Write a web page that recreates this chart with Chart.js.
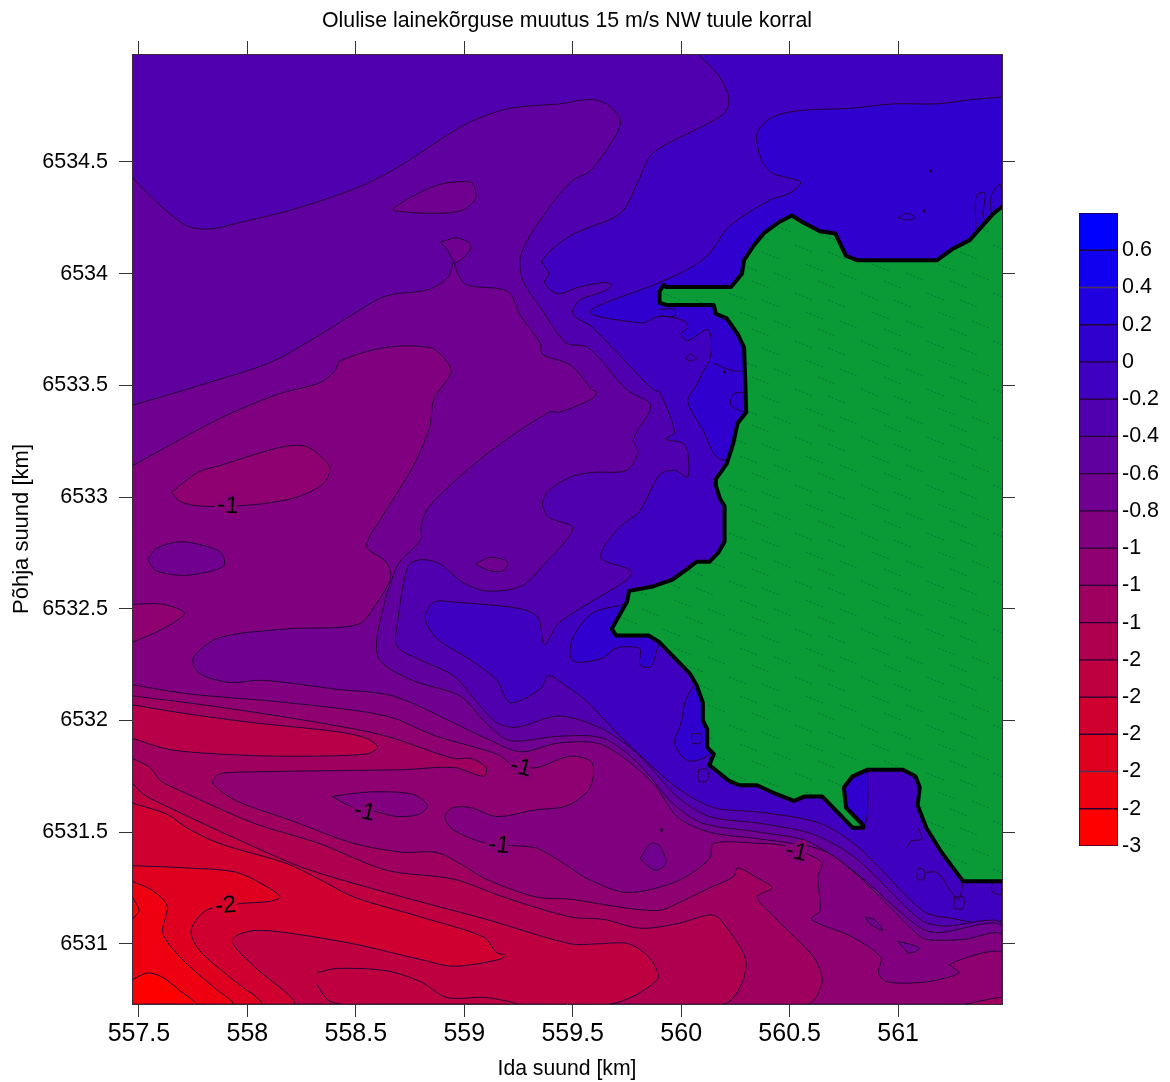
<!DOCTYPE html>
<html>
<head>
<meta charset="utf-8">
<title>Olulise lainekõrguse muutus</title>
<script src="https://cdn.jsdelivr.net/npm/chart.js@4"></script>
<style>
  body { margin: 0; background: #fff; }
  #map { position: absolute; left: 0; top: 0; }
  #bar { position: absolute; left: 1060px; top: 190px; }
</style>
</head>
<body>
<canvas id="map" width="1170" height="1082"></canvas>
<canvas id="bar" width="110" height="680"></canvas>
<script>
const xMin = 557.468, xMax = 561.479, yMin = 6530.731, yMax = 6534.983;
const xTicks = [557.5, 558, 558.5, 559, 559.5, 560, 560.5, 561];
const yTicks = [6531, 6531.5, 6532, 6532.5, 6533, 6533.5, 6534, 6534.5];

// colour bar
const barLevels = [0.8, 0.6, 0.4, 0.2, 0, -0.2, -0.4, -0.6, -0.8, -1, -1.2, -1.4, -1.6, -1.8, -2, -2.2, -2.4, -2.6];
const barTicks = [0.6, 0.4, 0.2, 0, -0.2, -0.4, -0.6, -0.8, -1, -1.2, -1.4, -1.6, -1.8, -2, -2.2, -2.4, -2.6];
const barLabels = ['0.6', '0.4', '0.2', '0', '-0.2', '-0.4', '-0.6', '-0.8', '-1', '-1', '-1', '-2', '-2', '-2', '-2', '-2', '-3'];

// contour labels
const labelText = ['-1', '-1', '-1', '-1', '-1', '-2'];
const labelValue = [-1, -1, -1, -1, -1, -2];
const labelX = [557.91, 559.26, 558.54, 559.16, 560.53, 557.90];
const labelY = [6532.96, 6531.79, 6531.59, 6531.44, 6531.41, 6531.17];
const labelAngle = [4, 14, 14, 5, 14, -5];

// contours, digitised [ida km, pohja km]
const plotBox = [[557.468, 6534.983], [561.479, 6534.983], [561.479, 6530.731], [557.468, 6530.731]];
const sw = [[561.48, 6530.73], [557.47, 6530.73]];

const iso02 = [[560.08,6534.98],[560.17,6534.89],[560.22,6534.78],[560.19,6534.71],[559.87,6534.54],[559.80,6534.41],[559.72,6534.27],[559.49,6534.17],[559.36,6534.06],[559.39,6534.00],[559.37,6533.96],[559.43,6533.91],[559.53,6533.94],[559.64,6533.96],[559.68,6533.95],[559.64,6533.92],[559.53,6533.88],[559.50,6533.82],[559.59,6533.76],[559.74,6533.61],[559.87,6533.48],[559.90,6533.47],[559.97,6533.29],[559.93,6533.26],[560.01,6533.24],[560.03,6533.20],[560.03,6533.09],[559.97,6533.12],[559.90,6533.10],[559.81,6532.94],[559.70,6532.85],[559.63,6532.73],[559.77,6532.67],[559.75,6532.63],[559.44,6532.44],[559.37,6532.34],[559.34,6532.46],[559.26,6532.50],[558.95,6532.53],[558.86,6532.53],[558.82,6532.46],[558.87,6532.37],[559.03,6532.27],[559.15,6532.18],[559.21,6532.08],[559.35,6532.14],[559.39,6532.20],[559.49,6532.14],[559.56,6532.09],[559.63,6532.02],[559.76,6531.89],[559.98,6531.70],[560.15,6531.61],[560.36,6531.59],[560.64,6531.54],[560.82,6531.43],[561.11,6531.15],[561.21,6531.12],[561.48,6531.12],[561.48,6534.98]];
const bayNorth = [[561.48,6534.79],[561.35,6534.78],[561.18,6534.76],[560.98,6534.76],[560.78,6534.74],[560.55,6534.73],[560.42,6534.70],[560.35,6534.63],[560.37,6534.51],[560.42,6534.45],[560.55,6534.41],[560.50,6534.36],[560.41,6534.33],[560.22,6534.21],[560.13,6534.09],[560.05,6534.03],[559.90,6533.96],[559.58,6533.83],[559.82,6533.78],[559.90,6533.81],[560.01,6533.79],[560.03,6533.76],[560.00,6533.73],[560.03,6533.70],[560.12,6533.75],[560.14,6533.70],[560.13,6533.61],[560.10,6533.56],[560.07,6533.50],[560.03,6533.43],[560.10,6533.30],[560.18,6533.17],[560.55,6533.17],[561.48,6533.88]];
const fingerZero = [[559.74,6532.52],[559.59,6532.48],[559.50,6532.37],[559.49,6532.28],[559.53,6532.26],[559.64,6532.28],[559.69,6532.32],[559.75,6532.33],[559.81,6532.32],[559.81,6532.25],[559.86,6532.24],[559.89,6532.32],[559.93,6532.41]];
const coastPatch = [[560.06,6532.16],[560.02,6532.09],[560.00,6531.99],[559.97,6531.90],[560.03,6531.82],[560.12,6531.84],[560.18,6531.91]];
const bayPatch = [[560.86,6531.78],[560.85,6531.54],[560.78,6531.58],[560.72,6531.69],[560.78,6531.77]];

const iso04 = [[557.47,6534.43],[557.55,6534.35],[557.64,6534.27],[557.73,6534.21],[557.83,6534.20],[557.97,6534.23],[558.22,6534.29],[558.52,6534.39],[558.70,6534.48],[558.89,6534.60],[559.03,6534.68],[559.21,6534.74],[559.44,6534.76],[559.59,6534.78],[559.67,6534.75],[559.72,6534.68],[559.68,6534.59],[559.58,6534.46],[559.49,6534.41],[559.35,6534.24],[559.26,6534.08],[559.27,6533.97],[559.35,6533.85],[559.47,6533.69],[559.57,6533.67],[559.75,6533.48],[559.86,6533.41],[559.78,6533.26],[559.80,6533.20],[559.75,6533.12],[559.59,6533.11],[559.49,6533.09],[559.39,6533.03],[559.36,6532.97],[559.39,6532.91],[559.50,6532.86],[559.36,6532.69],[559.26,6532.60],[559.10,6532.58],[558.99,6532.62],[558.89,6532.70],[558.80,6532.72],[558.74,6532.69],[558.69,6532.42],[558.69,6532.33],[558.80,6532.27],[558.95,6532.20],[559.06,6532.08],[559.15,6531.99],[559.24,6531.97],[559.44,6532.02],[559.64,6531.96],[559.81,6531.84],[559.98,6531.66],[560.13,6531.57],[560.36,6531.54],[560.61,6531.49],[560.81,6531.38],[561.10,6531.11],[561.21,6531.08],[561.48,6531.09]];
const iso06 = [[557.47,6533.41],[557.78,6533.50],[558.10,6533.60],[558.29,6533.70],[558.49,6533.82],[558.64,6533.90],[558.84,6533.93],[558.93,6533.99],[558.95,6534.05],[558.97,6534.00],[559.01,6533.95],[559.20,6533.92],[559.26,6533.81],[559.35,6533.69],[559.36,6533.64],[559.49,6533.59],[559.59,6533.48],[559.61,6533.47],[559.59,6533.44],[559.44,6533.38],[559.39,6533.38],[559.10,6533.19],[558.84,6532.96],[558.80,6532.87],[558.80,6532.81],[558.69,6532.69],[558.60,6532.39],[558.61,6532.27],[558.76,6532.18],[558.98,6532.11],[559.10,6531.99],[559.21,6531.91],[559.44,6531.93],[559.64,6531.92],[559.80,6531.81],[559.96,6531.63],[560.10,6531.54],[560.36,6531.50],[560.58,6531.46],[560.79,6531.33],[561.09,6531.08],[561.18,6531.05],[561.48,6531.08]];
const iso08 = [[557.47,6533.14],[557.87,6533.35],[558.14,6533.46],[558.33,6533.51],[558.40,6533.56],[558.43,6533.61],[558.64,6533.67],[558.84,6533.67],[558.90,6533.63],[558.94,6533.56],[558.86,6533.44],[558.84,6533.31],[558.76,6533.13],[558.62,6532.91],[558.55,6532.78],[558.64,6532.71],[558.66,6532.64],[558.60,6532.53],[558.51,6532.43],[558.18,6532.41],[557.87,6532.37],[557.75,6532.28],[557.78,6532.21],[557.92,6532.17],[558.07,6532.18],[558.41,6532.14],[558.67,6532.11],[558.95,6531.99],[559.10,6531.92],[559.26,6531.86],[559.44,6531.90],[559.64,6531.89],[559.87,6531.72],[559.98,6531.57],[560.13,6531.50],[560.36,6531.47],[560.65,6531.42],[560.82,6531.30],[561.07,6531.06],[561.13,6531.02],[561.30,6531.02],[561.48,6531.04]];
const iso10 = [[557.47,6532.16],[557.72,6532.12],[558.18,6532.08],[558.64,6532.02],[558.87,6531.93],[559.15,6531.85],[559.21,6531.81],[559.28,6531.79],[559.34,6531.79],[559.49,6531.84],[559.59,6531.81],[559.58,6531.70],[559.50,6531.63],[559.44,6531.61],[559.33,6531.60],[559.15,6531.57],[559.03,6531.61],[558.95,6531.61],[558.91,6531.57],[558.95,6531.51],[559.10,6531.45],[559.22,6531.44],[559.33,6531.43],[559.41,6531.39],[559.49,6531.34],[559.57,6531.29],[559.75,6531.23],[559.98,6531.28],[560.13,6531.38],[560.15,6531.45],[560.36,6531.45],[560.47,6531.44],[560.61,6531.39],[560.65,6531.36],[560.63,6531.30],[560.64,6531.15],[560.60,6531.11],[560.79,6531.03],[560.92,6530.94],[560.91,6530.87],[560.95,6530.83],[561.13,6530.83],[561.28,6530.87],[561.24,6530.91],[561.48,6530.96]];
const iso12 = [[557.47,6532.11],[557.87,6532.06],[558.33,6531.99],[558.64,6531.93],[558.95,6531.83],[559.03,6531.83],[559.10,6531.79],[559.09,6531.75],[558.95,6531.79],[558.72,6531.78],[558.03,6531.77],[557.87,6531.76],[557.84,6531.72],[557.95,6531.64],[558.18,6531.56],[558.49,6531.45],[558.72,6531.41],[558.87,6531.41],[558.98,6531.36],[559.10,6531.29],[559.33,6531.21],[559.49,6531.20],[559.75,6531.16],[559.90,6531.15],[559.98,6531.18],[560.13,6531.25],[560.24,6531.30],[560.26,6531.34],[560.36,6531.29],[560.42,6531.25],[560.35,6531.21],[560.44,6531.11],[560.61,6530.94],[560.65,6530.83],[560.58,6530.73],[557.47,6530.73]];
const iso12b = [[561.31,6530.73],[561.48,6530.76],[561.48,6530.73]];
const iso14n = [[557.47,6532.07],[557.72,6532.03],[558.03,6531.99],[558.41,6531.95],[558.55,6531.92],[558.60,6531.88],[558.55,6531.85],[558.18,6531.84],[557.87,6531.85],[557.64,6531.87],[557.47,6531.92]];
const iso14 = [[557.47,6531.83],[557.55,6531.79],[557.60,6531.73],[557.68,6531.69],[558.03,6531.54],[558.33,6531.45],[558.64,6531.33],[558.95,6531.29],[559.18,6531.21],[559.49,6531.12],[559.64,6531.11],[559.81,6531.07],[559.98,6531.09],[560.13,6531.13],[560.18,6531.11],[560.30,6530.91],[560.19,6530.73],[557.47,6530.73]];
const iso16 = [[557.47,6531.72],[557.52,6531.67],[557.64,6531.61],[557.95,6531.47],[558.26,6531.34],[558.64,6531.23],[559.10,6531.11],[559.49,6531.00],[559.61,6531.00],[559.76,6531.00],[559.86,6530.93],[559.89,6530.84],[559.66,6530.73],[557.47,6530.73]];
const iso18 = [[557.47,6531.63],[557.63,6531.58],[557.72,6531.52],[557.87,6531.45],[558.18,6531.36],[558.33,6531.29],[558.49,6531.21],[558.80,6531.12],[559.09,6531.03],[559.15,6530.96],[559.19,6530.95],[559.16,6530.93],[558.95,6530.90],[558.80,6530.93],[558.49,6531.00],[558.18,6531.05],[558.03,6531.06],[557.94,6531.03],[557.94,6530.99],[558.03,6530.90],[558.21,6530.73],[557.47,6530.73]];
const tongue16 = [[558.32,6530.87],[558.41,6530.89],[558.64,6530.88],[558.80,6530.83],[558.92,6530.76],[559.10,6530.76],[559.24,6530.73],[558.44,6530.73],[558.37,6530.75],[558.32,6530.82]];
const iso20 = [[557.47,6531.35],[557.72,6531.34],[557.95,6531.32],[558.10,6531.25],[558.15,6531.21],[558.10,6531.19],[557.96,6531.18],[557.81,6531.15],[557.74,6531.06],[557.78,6530.97],[557.92,6530.85],[558.06,6530.73],[557.47,6530.73]];
const iso22 = [[557.47,6531.28],[557.56,6531.24],[557.63,6531.17],[557.61,6531.05],[557.69,6530.94],[557.84,6530.81],[557.93,6530.73],[557.47,6530.73]];
const iso24 = [[557.47,6530.84],[557.54,6530.87],[557.61,6530.85],[557.69,6530.79],[557.76,6530.73],[557.47,6530.73]];
const iso24b = [[557.47,6531.21],[557.50,6531.15],[557.47,6531.11]];

// closed islands of the field
const blobA = [[558.67,6534.29],[558.75,6534.34],[558.89,6534.40],[559.03,6534.41],[559.05,6534.38],[559.05,6534.33],[558.98,6534.28],[558.84,6534.27],[558.68,6534.28],[558.67,6534.29]];
const blobB = [[558.89,6534.14],[558.96,6534.16],[559.02,6534.14],[559.03,6534.11],[558.96,6534.05],[558.92,6534.11],[558.89,6534.14]];
const blobC = [[559.05,6532.70],[559.12,6532.73],[559.20,6532.71],[559.18,6532.67],[559.12,6532.67],[559.05,6532.70]];
const blobD = [[557.54,6532.72],[557.58,6532.77],[557.69,6532.80],[557.81,6532.78],[557.88,6532.75],[557.89,6532.69],[557.72,6532.65],[557.58,6532.67],[557.54,6532.72]];
const blobRed = [[557.65,6533.02],[557.77,6533.11],[557.87,6533.14],[558.14,6533.22],[558.26,6533.23],[558.33,6533.19],[558.38,6533.13],[558.35,6533.06],[558.23,6533.00],[558.07,6532.97],[557.93,6532.96],[557.78,6532.96],[557.69,6532.98],[557.65,6533.02]];
const blobEdge = [[557.47,6532.52],[557.61,6532.52],[557.71,6532.48],[557.61,6532.41],[557.47,6532.35]];
const blobE = [[558.39,6531.66],[558.56,6531.68],[558.76,6531.67],[558.83,6531.62],[558.79,6531.58],[558.69,6531.57],[558.60,6531.59],[558.49,6531.61],[558.39,6531.66]];
const blobF = [[559.81,6531.38],[559.86,6531.45],[559.90,6531.44],[559.93,6531.36],[559.88,6531.33],[559.81,6531.38]];
const blobG = [[560.85,6531.12],[560.89,6531.11],[560.93,6531.06],[560.87,6531.09],[560.85,6531.12]];
const blobH = [[561.00,6531.01],[561.05,6531.00],[561.10,6530.98],[561.05,6530.96],[561.00,6531.01]];

// small shoreline wiggles
const wiggles = [
  [[561.09,6531.52],[561.11,6531.47],[561.06,6531.46],[561.04,6531.43]],
  [[561.13,6531.32],[561.18,6531.32],[561.24,6531.24],[561.28,6531.20],[561.30,6531.28]],
  [[561.09,6531.34],[561.12,6531.33],[561.12,6531.29],[561.09,6531.29],[561.09,6531.34]],
  [[561.26,6531.21],[561.30,6531.21],[561.30,6531.16],[561.26,6531.16],[561.26,6531.21]],
  [[561.44,6531.29],[561.43,6531.24],[561.47,6531.22],[561.48,6531.26]],
  [[560.08,6531.78],[560.12,6531.78],[560.12,6531.73],[560.08,6531.73],[560.08,6531.78]],
  [[560.05,6531.94],[560.09,6531.94],[560.09,6531.90],[560.05,6531.90],[560.05,6531.94]],
  [[561.36,6534.18],[561.36,6534.35],[561.40,6534.36],[561.39,6534.26],[561.40,6534.24]],
  [[561.43,6534.25],[561.43,6534.35],[561.47,6534.40],[561.48,6534.30]],
  [[561.00,6534.25],[561.04,6534.27],[561.08,6534.25],[561.04,6534.24],[561.00,6534.25]],
  [[559.90,6533.84],[559.97,6533.84],[559.97,6533.81],[559.90,6533.81]],
  [[560.02,6533.62],[560.04,6533.64],[560.07,6533.62],[560.04,6533.61],[560.02,6533.62]],
  [[560.15,6533.60],[560.22,6533.57],[560.29,6533.56]],
  [[560.29,6533.47],[560.24,6533.46],[560.23,6533.41],[560.29,6533.38]]
];
const dots = [[561.15,6534.46],[561.12,6534.28],[559.91,6531.51],[560.20,6533.56]];

const land = [[561.48,6534.30],[561.44,6534.27],[561.33,6534.15],[561.25,6534.11],[561.18,6534.06],[560.81,6534.06],[560.76,6534.08],[560.71,6534.18],[560.64,6534.19],[560.56,6534.23],[560.51,6534.26],[560.45,6534.23],[560.38,6534.18],[560.33,6534.12],[560.29,6534.06],[560.28,6534.00],[560.23,6533.94],[559.93,6533.94],[559.92,6533.95],[559.90,6533.92],[559.90,6533.87],[559.93,6533.86],[560.15,6533.86],[560.16,6533.82],[560.21,6533.80],[560.26,6533.73],[560.29,6533.67],[560.30,6533.38],[560.26,6533.33],[560.24,6533.24],[560.21,6533.15],[560.16,6533.08],[560.16,6533.05],[560.18,6532.99],[560.20,6532.96],[560.20,6532.80],[560.17,6532.75],[560.13,6532.71],[560.07,6532.71],[560.03,6532.68],[559.96,6532.63],[559.87,6532.60],[559.76,6532.58],[559.75,6532.53],[559.72,6532.48],[559.68,6532.41],[559.70,6532.38],[559.85,6532.38],[559.90,6532.35],[560.04,6532.21],[560.07,6532.16],[560.10,6532.08],[560.10,6532.00],[560.12,6531.96],[560.12,6531.88],[560.15,6531.85],[560.13,6531.80],[560.22,6531.73],[560.27,6531.71],[560.35,6531.71],[560.44,6531.67],[560.52,6531.64],[560.57,6531.66],[560.65,6531.66],[560.79,6531.52],[560.84,6531.52],[560.84,6531.53],[560.76,6531.61],[560.75,6531.70],[560.79,6531.75],[560.86,6531.78],[561.02,6531.78],[561.08,6531.75],[561.10,6531.70],[561.09,6531.62],[561.13,6531.52],[561.20,6531.41],[561.30,6531.28],[561.48,6531.28]];

const fontFamily = '"Liberation Sans", Arial, sans-serif';
const lineColor = 'rgb(38, 0, 55)';

function bandColor(v) {
  const t = Math.min(1, Math.max(0, (0.7 - v) / 3.2));
  return `rgb(${Math.round(255 * t)}, 0, ${Math.round(255 * (1 - t))})`;
}

function toPoints(list) {
  return list.map(p => ({ x: p[0], y: p[1] }));
}

function landPattern() {
  const tile = document.createElement('canvas');
  tile.width = 66;
  tile.height = 48;
  const c = tile.getContext('2d');
  c.fillStyle = '#0a9a36';
  c.fillRect(0, 0, 66, 48);
  c.strokeStyle = 'rgba(0, 95, 60, 0.6)';
  c.lineWidth = 1;
  c.setLineDash([2, 2]);
  [[3, 5], [36, 12], [14, 24], [48, 33], [26, 41]].forEach(s => {
    c.beginPath();
    c.moveTo(s[0], s[1]);
    c.lineTo(s[0] + 17, s[1] + 7);
    c.stroke();
  });
  return c.createPattern(tile, 'repeat');
}

// painted in this order, later ones on top
const layers = [
  { pts: plotBox, v: -0.3, line: 0 },
  { pts: iso02, v: -0.1 },
  { pts: bayNorth, v: 0.1 },
  { pts: fingerZero, v: 0.1 },
  { pts: coastPatch, v: 0.1 },
  { pts: bayPatch, v: 0.1 },
  { pts: iso04.concat(sw), v: -0.5 },
  { pts: blobA, v: -0.7 },
  { pts: blobB, v: -0.7 },
  { pts: blobC, v: -0.7 },
  { pts: iso06.concat(sw), v: -0.7 },
  { pts: iso08.concat(sw), v: -0.9 },
  { pts: blobD, v: -0.7 },
  { pts: blobF, v: -0.7 },
  { pts: blobG, v: -0.7 },
  { pts: blobH, v: -0.7 },
  { pts: blobRed, v: -1.1 },
  { pts: blobEdge, v: -1.1 },
  { pts: iso10.concat(sw), v: -1.1 },
  { pts: blobE, v: -0.9 },
  { pts: iso12, v: -1.3 },
  { pts: iso12b, v: -1.3 },
  { pts: iso14n, v: -1.6 },
  { pts: iso14, v: -1.5 },
  { pts: iso16, v: -1.7 },
  { pts: iso18, v: -1.9 },
  { pts: tongue16, v: -1.7 },
  { pts: iso20, v: -2.1 },
  { pts: iso22, v: -2.3 },
  { pts: iso24, v: -2.6 },
  { pts: iso24b, v: -2.6 }
];

const datasets = [];
layers.forEach(l => {
  datasets.push({
    data: toPoints(l.pts),
    showLine: true,
    fill: 'shape',
    backgroundColor: bandColor(l.v),
    borderColor: lineColor,
    borderWidth: l.line === 0 ? 0 : 1,
    tension: 0.3,
    pointRadius: 0,
    clip: 0
  });
});
wiggles.forEach(w => {
  datasets.push({
    data: toPoints(w),
    showLine: true,
    fill: false,
    borderColor: lineColor,
    borderWidth: 1,
    tension: 0.3,
    pointRadius: 0,
    clip: 0
  });
});
datasets.push({
  data: toPoints(dots),
  showLine: false,
  pointRadius: 1.6,
  pointBorderWidth: 0,
  pointBackgroundColor: lineColor
});
datasets.push({
  data: toPoints(land),
  showLine: true,
  fill: 'shape',
  backgroundColor: landPattern(),
  borderColor: '#000',
  borderWidth: 4,
  borderJoinStyle: 'round',
  tension: 0,
  pointRadius: 0,
  clip: 0
});
// later datasets have to end up on top
datasets.forEach((d, i) => { d.order = datasets.length - i; });

const contourLabels = {
  id: 'contourLabels',
  afterDatasetsDraw(chart) {
    const ctx = chart.ctx;
    ctx.save();
    ctx.font = `24px ${fontFamily}`;
    ctx.textAlign = 'center';
    ctx.textBaseline = 'middle';
    ctx.lineJoin = 'round';
    labelText.forEach((t, i) => {
      ctx.save();
      ctx.translate(chart.scales.x.getPixelForValue(labelX[i]), chart.scales.y.getPixelForValue(labelY[i]));
      ctx.rotate(labelAngle[i] * Math.PI / 180);
      // the contour breaks around its label
      ctx.strokeStyle = bandColor(labelValue[i]);
      ctx.lineWidth = 7;
      ctx.strokeText(t, 0, 0);
      ctx.fillStyle = '#000';
      ctx.fillText(t, 0, 0);
      ctx.restore();
    });
    ctx.restore();
  }
};

function axisGrid() {
  return { drawOnChartArea: false, drawTicks: true, tickLength: 13, tickColor: '#333', tickWidth: 1 };
}
const axisBorder = { display: true, color: '#3a2a3a', width: 1, z: 1 };

new Chart(document.getElementById('map'), {
  type: 'scatter',
  data: { datasets: datasets },
  plugins: [contourLabels],
  options: {
    responsive: false,
    animation: false,
    events: [],
    layout: { autoPadding: false, padding: 0 },
    plugins: { legend: { display: false }, tooltip: { enabled: false } },
    scales: {
      x: {
        type: 'linear', position: 'bottom', min: xMin, max: xMax,
        grid: axisGrid(), border: axisBorder,
        afterBuildTicks: s => { s.ticks = xTicks.map(v => ({ value: v })); },
        afterFit: s => { s.height = 78; },
        ticks: {
          autoSkip: false, maxRotation: 0, color: '#000', padding: 2,
          font: { family: fontFamily, size: 25 },
          callback: v => String(v)
        },
        title: {
          display: true, text: 'Ida suund [km]', color: '#000',
          font: { family: fontFamily, size: 21.2 }, padding: { top: 0, bottom: 0 }
        }
      },
      y: {
        type: 'linear', position: 'left', min: yMin, max: yMax,
        grid: axisGrid(), border: axisBorder,
        afterBuildTicks: s => { s.ticks = yTicks.map(v => ({ value: v })); },
        afterFit: s => { s.width = 132; },
        ticks: {
          autoSkip: false, color: '#000', padding: 11,
          font: { family: fontFamily, size: 21.5 },
          callback: v => String(v)
        },
        title: {
          display: true, text: 'Põhja suund [km]', color: '#000',
          font: { family: fontFamily, size: 22 }, padding: { top: 9, bottom: 0 }
        }
      },
      x2: {
        type: 'linear', position: 'top', min: xMin, max: xMax,
        grid: axisGrid(), border: axisBorder,
        afterBuildTicks: s => { s.ticks = xTicks.map(v => ({ value: v })); },
        afterFit: s => { s.height = 54; },
        ticks: { display: false, autoSkip: false },
        title: {
          display: true, text: 'Olulise lainekõrguse muutus 15 m/s NW tuule korral', color: '#000',
          font: { family: fontFamily, size: 21.3 }, padding: { top: 8, bottom: 0 }
        }
      },
      y2: {
        type: 'linear', position: 'right', min: yMin, max: yMax,
        grid: axisGrid(), border: axisBorder,
        afterBuildTicks: s => { s.ticks = yTicks.map(v => ({ value: v })); },
        afterFit: s => { s.width = 168; },
        ticks: { display: false, autoSkip: false }
      }
    }
  }
});

// colour bar
const barSets = [];
for (let i = 0; i < barLevels.length - 1; i++) {
  const hi = barLevels[i], lo = barLevels[i + 1];
  barSets.push({
    data: [[lo, hi]],
    backgroundColor: bandColor((hi + lo) / 2),
    borderColor: 'rgb(35, 0, 50)',
    borderWidth: 1,
    borderSkipped: false,
    barPercentage: 1,
    categoryPercentage: 1,
    grouped: false
  });
}

new Chart(document.getElementById('bar'), {
  type: 'bar',
  data: { labels: [''], datasets: barSets },
  options: {
    responsive: false,
    animation: false,
    events: [],
    layout: { autoPadding: false, padding: { left: 19, top: 23, bottom: 24, right: 0 } },
    plugins: { legend: { display: false }, tooltip: { enabled: false } },
    scales: {
      x: { display: false },
      y: {
        position: 'right', min: -2.6, max: 0.8,
        grid: { display: false, drawTicks: false }, border: { display: false },
        afterBuildTicks: s => { s.ticks = barTicks.map(v => ({ value: v })); },
        afterFit: s => { s.width = 52; },
        ticks: {
          autoSkip: false, color: '#000', padding: 4,
          font: { family: fontFamily, size: 21.5 },
          callback: (v, i) => barLabels[i]
        }
      }
    }
  }
});
</script>
</body>
</html>
